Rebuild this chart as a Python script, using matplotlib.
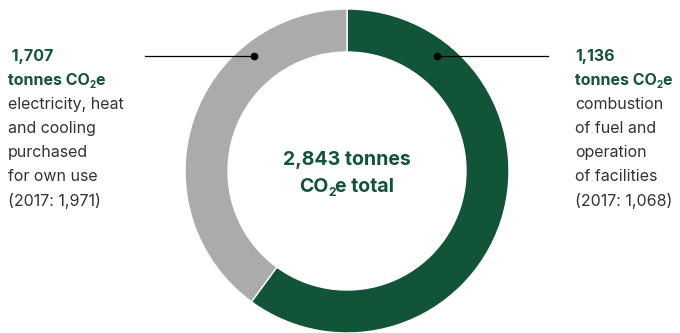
import matplotlib.pyplot as plt

plt.rcParams['font.family'] = ['Inter', 'DejaVu Sans']

# Data (wedges drawn clockwise from 12 o'clock, as in the picture)
slice_values = [1707, 1136]
slice_colors = ['#115437', '#aaabaa']
total_label = ['2,843 tonnes', ('CO', '2', 'e total')]

left_head = [' 1,707', ('tonnes CO', '2', 'e')]
left_body = ['electricity, heat', 'and cooling', 'purchased', 'for own use', '(2017: 1,971)']
right_head = ['1,136', ('tonnes CO', '2', 'e')]
right_body = ['combustion', 'of fuel and', 'operation', 'of facilities', '(2017: 1,068)']

GREEN = '#115437'
GREY_TXT = '#333333'
W, H = 680, 333

fig = plt.figure(figsize=(W / 100, H / 100), dpi=100)
ax = fig.add_axes([0, 0, 1, 1])
renderer = fig.canvas.get_renderer()

cx, cy = 347, H - 171
ax.pie(slice_values, colors=slice_colors, startangle=90, counterclock=False,
       center=(cx, cy), radius=162, frame=True,
       wedgeprops=dict(width=43, edgecolor='white', linewidth=1))
ax.set_xlim(0, W)
ax.set_ylim(0, H)
ax.set_aspect('equal')
ax.axis('off')


def sub_text(x, y, parts, size, ha='left', **kw):
    # "CO" + small lowered "2" + "e", laid out piece by piece
    pieces = [(parts[0], size, 0), (parts[1], size * 0.62, -size * 0.45),
              (parts[2], size, 0)]
    arts = []
    for s, fs, dy in pieces:
        t = ax.text(0, y + dy, s, ha='left', va='center', fontsize=fs, **kw)
        arts.append(t)
    widths = [a.get_window_extent(renderer).width for a in arts]
    total = sum(widths) - 1
    xx = x - total / 2 if ha == 'center' else x
    for a, w in zip(arts, widths):
        a.set_x(xx)
        xx += w - 0.5


# centre label
ax.text(cx, H - 160, total_label[0], ha='center', va='center', fontsize=14,
        fontweight='bold', color=GREEN)
sub_text(cx, H - 187, total_label[1], 14, ha='center', fontweight='bold', color=GREEN)

# leader lines with dots
ax.plot([145, 254], [H - 56, H - 56], color='black', lw=0.9)
ax.plot([254], [H - 56], 'o', color='black', ms=4.5)
ax.plot([437, 548], [H - 56, H - 56], color='black', lw=0.9)
ax.plot([437], [H - 56], 'o', color='black', ms=4.5)


def block(x, head, body):
    y = H - 56
    ax.text(x, y, head[0], ha='left', va='center', fontsize=11.5,
            fontweight='bold', color=GREEN)
    y -= 24.2
    sub_text(x, y, head[1], 11.5, fontweight='bold', color=GREEN)
    y -= 24.2
    for line in body:
        ax.text(x, y, line, ha='left', va='center', fontsize=11.5, color=GREY_TXT)
        y -= 24.2


block(8, left_head, left_body)
block(575, right_head, right_body)

fig.savefig('out.png', dpi=100)
